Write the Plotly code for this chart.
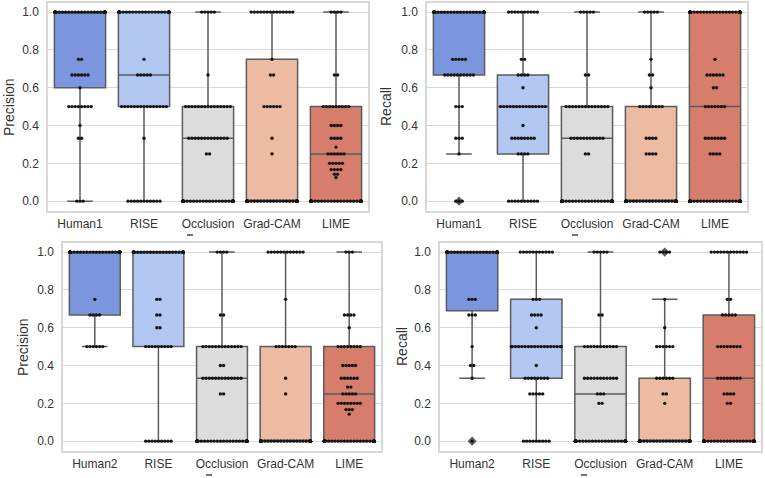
import plotly.graph_objects as go

# ---------------- data ----------------
methods_top = ["Human1", "RISE", "Occlusion", "Grad-CAM", "LIME"]
methods_bottom = ["Human2", "RISE", "Occlusion", "Grad-CAM", "LIME"]
box_colors = ["#7b96de", "#b2c8f2", "#dcdcdc", "#edbaa2", "#d67e6b"]
y_ticks = [0.0, 0.2, 0.4, 0.6, 0.8, 1.0]

# Panel 1: Precision (Human1)
p1_values = [
    [1.0, 0.75, 0.667, 0.6, 0.5, 0.4, 0.333, 0.0],
    [1.0, 0.75, 0.667, 0.5, 0.333, 0.0],
    [1.0, 0.667, 0.5, 0.333, 0.25, 0.0],
    [1.0, 0.75, 0.667, 0.5, 0.333, 0.25, 0.0],
    [1.0, 0.667, 0.5, 0.4, 0.333, 0.286, 0.25, 0.2, 0.167, 0.143, 0.125, 0.0],
]
p1_counts = [
    [40, 2, 6, 1, 8, 1, 2, 3],
    [40, 1, 5, 15, 1, 11],
    [5, 1, 15, 13, 2, 40],
    [14, 1, 2, 6, 1, 1, 40],
    [4, 2, 9, 4, 4, 1, 6, 5, 4, 2, 1, 40],
]
p1_q1 = [0.6, 0.5, 0.0, 0.0, 0.0]
p1_median = [1.0, 0.667, 0.333, 0.0, 0.25]
p1_q3 = [1.0, 1.0, 0.5, 0.75, 0.5]
p1_low = [0.0, 0.0, 0.0, 0.0, 0.0]
p1_high = [1.0, 1.0, 1.0, 1.0, 1.0]
p1_outliers = [[], [], [], [], []]

# Panel 2: Recall (Human1)
p2_values = [
    [1.0, 0.75, 0.667, 0.5, 0.333, 0.25, 0.0],
    [1.0, 0.75, 0.667, 0.6, 0.5, 0.4, 0.333, 0.25, 0.0],
    [1.0, 0.667, 0.5, 0.333, 0.25, 0.0],
    [1.0, 0.75, 0.667, 0.6, 0.5, 0.333, 0.25, 0.0],
    [1.0, 0.75, 0.667, 0.6, 0.5, 0.333, 0.25, 0.0],
]
p2_counts = [
    [40, 5, 10, 3, 3, 1, 3],
    [10, 2, 4, 1, 15, 1, 8, 4, 10],
    [5, 2, 14, 11, 2, 40],
    [5, 1, 2, 1, 8, 4, 4, 40],
    [40, 1, 6, 2, 7, 7, 4, 40],
]
p2_q1 = [0.667, 0.25, 0.0, 0.0, 0.0]
p2_median = [1.0, 0.5, 0.333, 0.0, 0.5]
p2_q3 = [1.0, 0.667, 0.5, 0.5, 1.0]
p2_low = [0.25, 0.0, 0.0, 0.0, 0.0]
p2_high = [1.0, 1.0, 1.0, 1.0, 1.0]
p2_outliers = [[0.0], [], [], [], []]

# Panel 3: Precision (Human2)
p3_values = [
    [1.0, 0.75, 0.667, 0.5],
    [1.0, 0.75, 0.667, 0.6, 0.5, 0.0],
    [1.0, 0.667, 0.5, 0.4, 0.333, 0.25, 0.0],
    [1.0, 0.75, 0.5, 0.333, 0.25, 0.0],
    [1.0, 0.667, 0.6, 0.5, 0.4, 0.333, 0.286, 0.25, 0.2, 0.167, 0.143, 0.0],
]
p3_counts = [
    [40, 1, 4, 6],
    [40, 2, 2, 2, 9, 9],
    [4, 2, 13, 2, 13, 2, 40],
    [12, 1, 7, 1, 1, 40],
    [3, 4, 1, 8, 5, 6, 2, 5, 8, 3, 1, 40],
]
p3_q1 = [0.667, 0.5, 0.0, 0.0, 0.0]
p3_median = [1.0, 1.0, 0.333, 0.0, 0.25]
p3_q3 = [1.0, 1.0, 0.5, 0.5, 0.5]
p3_low = [0.5, 0.0, 0.0, 0.0, 0.0]
p3_high = [1.0, 1.0, 1.0, 1.0, 1.0]
p3_outliers = [[], [], [], [], []]

# Panel 4: Recall (Human2)
p4_values = [
    [1.0, 0.75, 0.667, 0.5, 0.4, 0.333, 0.0],
    [1.0, 0.75, 0.667, 0.6, 0.5, 0.4, 0.333, 0.25, 0.0],
    [1.0, 0.667, 0.5, 0.333, 0.25, 0.2, 0.0],
    [1.0, 0.75, 0.6, 0.5, 0.333, 0.25, 0.2, 0.0],
    [1.0, 0.75, 0.667, 0.5, 0.333, 0.25, 0.2, 0.0],
]
p4_counts = [
    [40, 3, 3, 1, 2, 1, 1],
    [11, 3, 4, 1, 18, 1, 8, 5, 9],
    [5, 2, 11, 11, 3, 2, 40],
    [4, 1, 1, 6, 6, 2, 1, 40],
    [12, 2, 5, 8, 8, 4, 2, 40],
]
p4_q1 = [0.69, 0.333, 0.0, 0.0, 0.0]
p4_median = [1.0, 0.5, 0.25, 0.0, 0.333]
p4_q3 = [1.0, 0.75, 0.5, 0.333, 0.667]
p4_low = [0.333, 0.0, 0.0, 0.0, 0.0]
p4_high = [1.0, 1.0, 1.0, 0.75, 1.0]
p4_outliers = [[0.0], [], [], [1.0], []]

# ---------------- layout helpers ----------------
W, H = 765, 478
# plot area pixels (left, right, top, bottom)
panel_px = [(48, 368, 3, 211), (427, 747, 3, 211), (63, 381, 243, 451), (440, 761, 243, 451)]
panel_titles = ["Precision", "Recall", "Precision", "Recall"]
title_x_px = [9, 386, 23, 402]
# tiny clipped x-title stubs visible under "Occlusion" (x, y in px)
stub_px = [(190, 235), (575, 235), (209, 475), (584, 475)]

panels = [
    (methods_top, p1_values, p1_counts, p1_q1, p1_median, p1_q3, p1_low, p1_high, p1_outliers),
    (methods_top, p2_values, p2_counts, p2_q1, p2_median, p2_q3, p2_low, p2_high, p2_outliers),
    (methods_bottom, p3_values, p3_counts, p3_q1, p3_median, p3_q3, p3_low, p3_high, p3_outliers),
    (methods_bottom, p4_values, p4_counts, p4_q1, p4_median, p4_q3, p4_low, p4_high, p4_outliers),
]

BOX_W = 0.8
DOT_STEP = 0.05
LINE_COL = "#5c5c5c"
GRID_COL = "#d8d8d8"
FONT = "Liberation Sans, Arial, sans-serif"

fig = go.Figure()
annotations = []
shapes = []

for pi, (names, vals, cnts, q1, med, q3, lo, hi, outs) in enumerate(panels):
    sfx = "" if pi == 0 else str(pi + 1)
    xa, ya = "x" + sfx, "y" + sfx
    # boxes
    for i in range(len(names)):
        fig.add_trace(go.Box(
            x=[i], q1=[q1[i]], median=[med[i]], q3=[q3[i]],
            lowerfence=[lo[i]], upperfence=[hi[i]],
            width=BOX_W, whiskerwidth=0.5, fillcolor=box_colors[i],
            line=dict(color=LINE_COL, width=1.5), boxpoints=False,
            showlegend=False, hoverinfo="skip", xaxis=xa, yaxis=ya,
        ))
    # outliers (fliers)
    ox, oy = [], []
    for i, ol in enumerate(outs):
        for v in ol:
            ox.append(i)
            oy.append(v)
    if ox:
        fig.add_trace(go.Scatter(
            x=ox, y=oy, mode="markers",
            marker=dict(symbol="diamond", size=7, color=LINE_COL),
            showlegend=False, hoverinfo="skip", xaxis=xa, yaxis=ya))
    # swarm dots
    sx, sy = [], []
    half = BOX_W / 2
    for i in range(len(names)):
        for v, n in zip(vals[i], cnts[i]):
            for k in range(n):
                off = (k - (n - 1) / 2) * DOT_STEP
                off = max(-half + 0.01, min(half - 0.01, off))
                sx.append(i + off)
                sy.append(v)
    fig.add_trace(go.Scatter(
        x=sx, y=sy, mode="markers",
        marker=dict(size=3.4, color="#151515"),
        showlegend=False, hoverinfo="skip", xaxis=xa, yaxis=ya))

    l, r, t, b = panel_px[pi]
    fig.layout["xaxis" + sfx] = dict(
        domain=[l / W, r / W], anchor=ya, range=[-0.5, len(names) - 0.5],
        tickmode="array", tickvals=list(range(len(names))), ticktext=names,
        showgrid=False, zeroline=False, showline=True, mirror=True,
        linecolor=GRID_COL, linewidth=1.5, ticks="", ticklabelstandoff=1,
        tickfont=dict(family=FONT, size=12, color="#333333"), fixedrange=True,
    )
    fig.layout["yaxis" + sfx] = dict(
        domain=[1 - b / H, 1 - t / H], anchor=xa, range=[-0.052, 1.048],
        tickmode="array", tickvals=y_ticks, ticktext=[f"{v:.1f}" for v in y_ticks],
        showgrid=True, gridcolor=GRID_COL, gridwidth=1, zeroline=False,
        showline=True, mirror=True, linecolor=GRID_COL, linewidth=1.5,
        ticks="", ticklabelstandoff=5,
        tickfont=dict(family=FONT, size=12, color="#333333"), fixedrange=True,
    )
    annotations.append(dict(
        text=panel_titles[pi], textangle=-90, showarrow=False,
        xref="paper", yref="paper", x=title_x_px[pi] / W, y=1 - (t + b) / 2 / H,
        xanchor="center", yanchor="middle",
        font=dict(family=FONT, size=14, color="#333333"),
    ))
    sxp, syp = stub_px[pi]
    shapes.append(dict(
        type="line", xref="paper", yref="paper",
        x0=(sxp - 3) / W, x1=(sxp + 3) / W, y0=1 - syp / H, y1=1 - syp / H,
        line=dict(color="#444444", width=1.5),
    ))

fig.update_layout(
    width=W, height=H, margin=dict(l=0, r=0, t=0, b=0),
    paper_bgcolor="white", plot_bgcolor="white",
    annotations=annotations, shapes=shapes, boxmode="overlay",
)

fig.write_html(
    "out.html",
    config={"displayModeBar": False},
    post_script="document.body.style.margin='0';document.body.style.overflow='hidden';",
)
